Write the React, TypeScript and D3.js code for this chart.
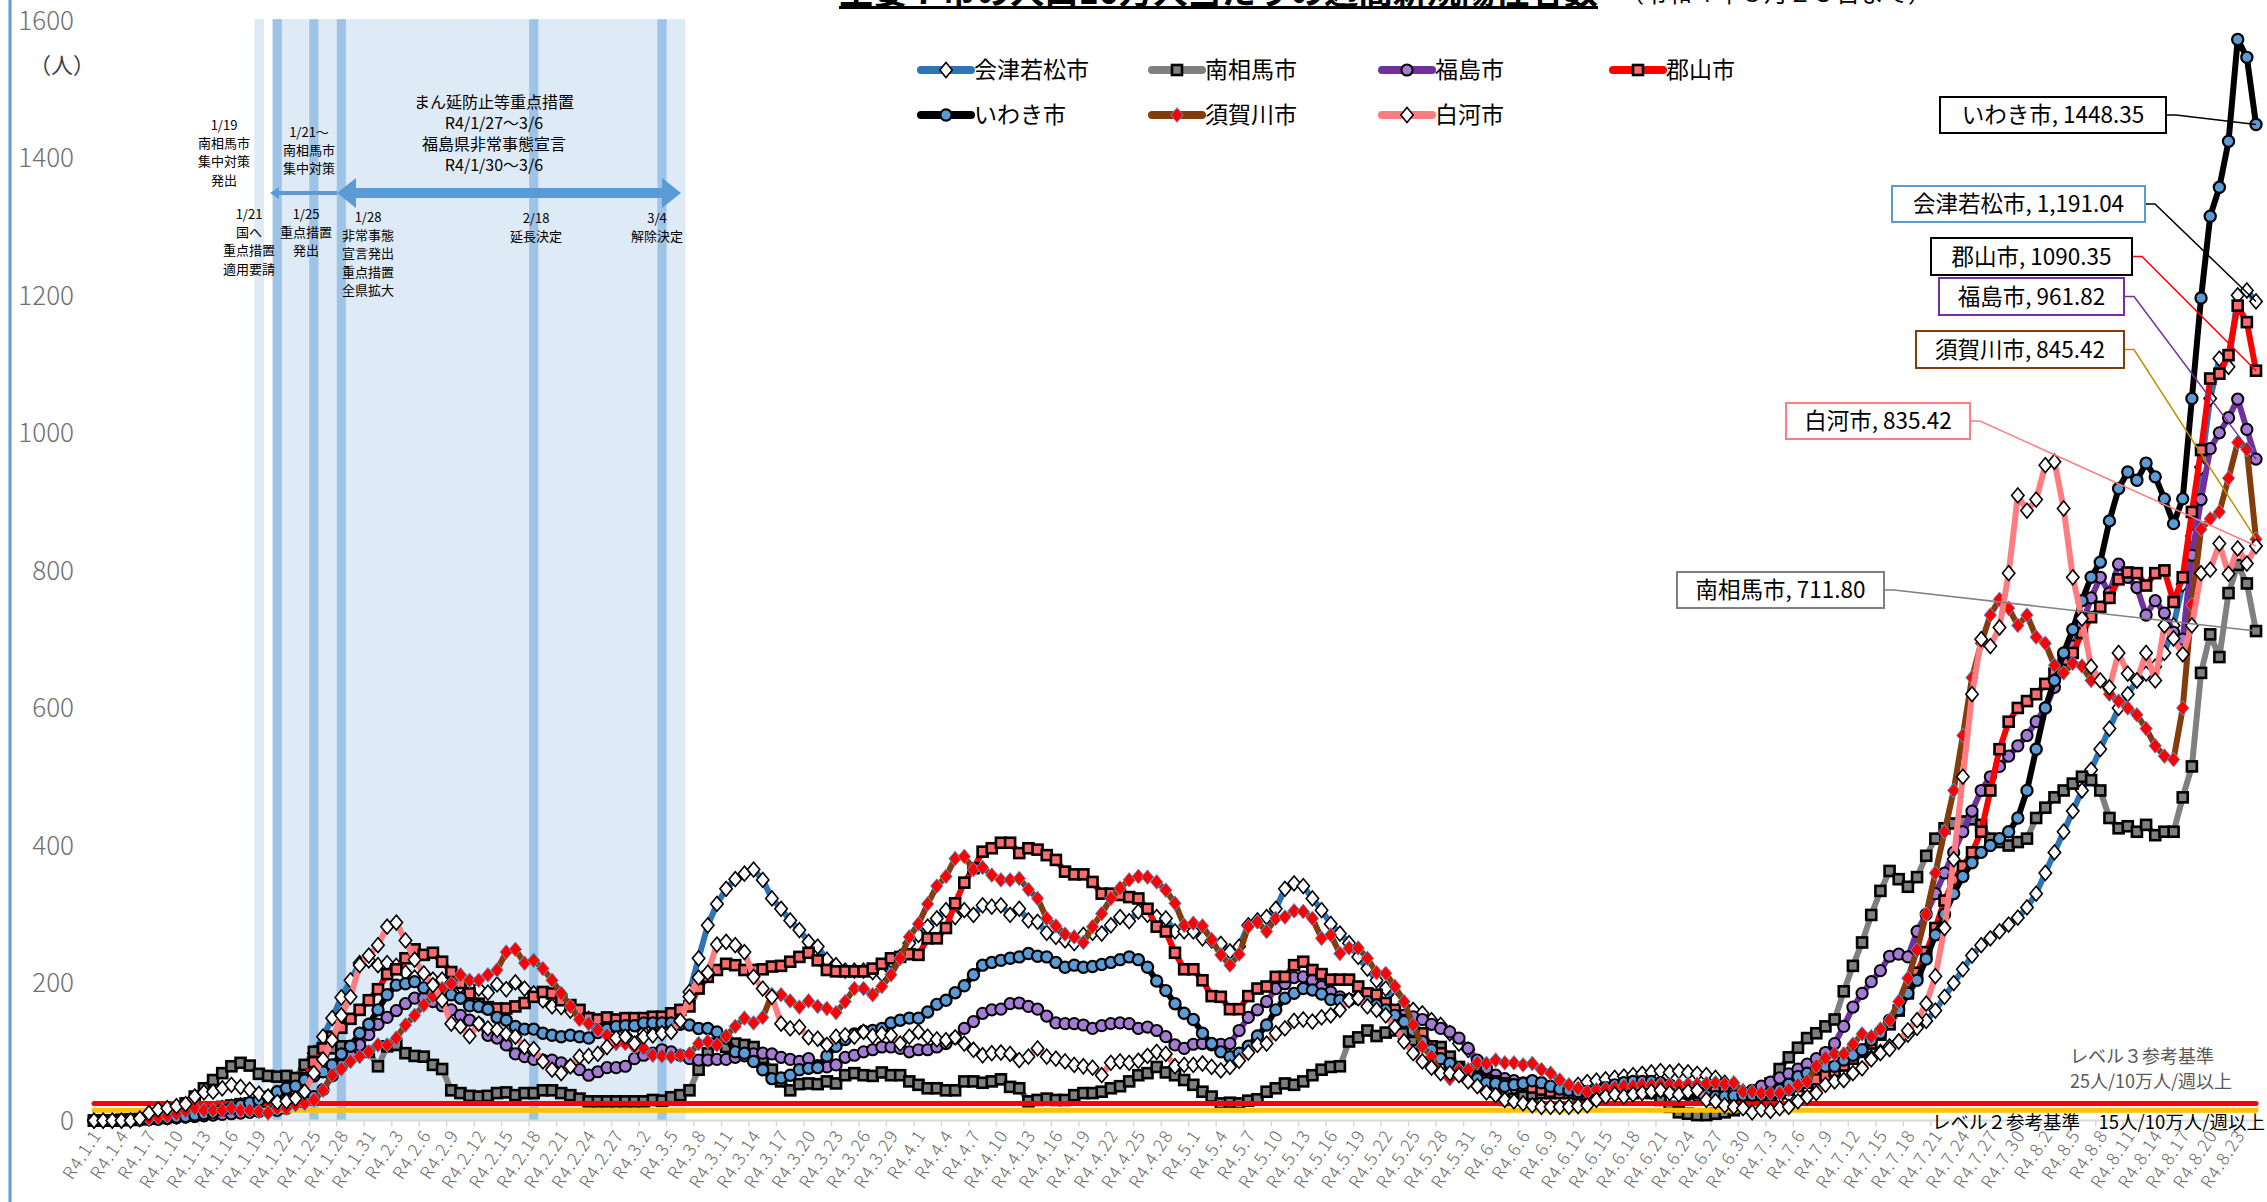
import React from "react";
import * as d3 from "d3";

const W = 2267;
const H = 1202;
const FONT = "'Noto Sans CJK JP', 'Noto Sans', sans-serif";

// categories: one per day, R4.1.1 .. R4.8.25
const startDay = new Date(2022, 0, 1);
const dayCount = 237;
const days = d3.range(dayCount).map((i) => d3.timeDay.offset(startDay, i));
const dayLabels = days.map((d) => `R4.${d.getMonth() + 1}.${d.getDate()}`);

const yTicks = [0, 200, 400, 600, 800, 1000, 1200, 1400, 1600];

// weekly new cases per 100k
const aizu = [
  0, 0, 0, 0, 1, 2, 3, 4, 5, 6, 8, 10, 12, 15, 18, 20, 22, 25, 28, 30, 33, 40, 55, 75, 98,
  122, 149, 179, 204, 229, 233, 226, 229, 225, 215, 208, 205, 205, 205, 200, 196, 194, 192, 186, 198, 191, 201, 192, 185, 175, 166, 165,
  160, 155, 148, 142, 138, 135, 132, 130, 128, 127, 130, 135,
  145, 187, 236, 284, 315, 337, 351, 359, 365, 350, 323, 308, 291, 277, 260, 253, 234, 226, 218, 218, 218, 216, 213, 233, 238, 258, 270, 282, 294, 306, 296, 306, 299, 313, 311, 313, 299, 308, 291,
  289, 273, 267, 262, 258, 270, 273, 272, 284, 296, 290, 304, 299, 296, 294, 275, 275, 275, 265, 262, 257, 246, 253, 284, 291, 296, 308, 337, 345, 341, 323, 306, 286, 272, 258, 238, 221, 204, 192, 175, 166, 161, 156, 146, 139, 127, 112, 103, 83, 69, 57, 49,
  48, 50, 52, 50, 48, 46, 48, 52, 56, 58, 60, 62, 64, 66, 68, 70, 72, 70, 72, 70, 68, 66, 62, 55, 48, 42, 40, 38, 36, 35, 38, 42, 48, 55, 60, 65, 70, 78, 85, 92, 100, 108, 115, 125, 135,
  145, 160, 180, 200, 220, 240, 255, 265, 275, 285, 295, 310, 330, 360, 390, 420, 450, 480, 510, 540, 570, 600, 620, 640, 650, 660, 680, 720, 780, 850, 950, 1050, 1108, 1096, 1200, 1207, 1191.04,
];
const minamisoma = [
  0, 0, 0, 1, 2, 3, 3, 6, 10, 16, 25, 35,
  47, 59, 69, 79, 84, 80, 68, 65, 64, 65, 62,
  81, 100, 102, 105, 108, 108, 105, 100, 79, 108, 110, 98, 94, 93, 81, 75,
  44, 40, 36, 35, 36, 40, 41, 37, 40, 40, 44, 44, 40,
  37, 32, 28, 28, 28, 28, 28, 28, 28, 30, 29, 34, 37, 44,
  74, 98, 112, 107, 112, 110, 107, 91, 74, 57, 44, 53, 54, 53, 57, 54, 66, 69, 66, 65, 70, 66, 66, 57, 52, 47, 47, 44, 44, 57, 57, 55, 57, 60, 49, 47, 28,
  30, 32, 30, 30, 37, 40, 40, 42, 47, 50, 57, 66, 69, 78, 70, 66, 59, 52, 42, 35, 25, 26, 25, 29, 31, 42, 47, 54, 52, 57, 66, 74, 78, 79, 115, 121, 131, 123, 128, 131, 127, 117, 110, 108, 107, 93, 78, 69, 64, 57, 42, 30,
  32, 35, 38, 40, 40, 42, 42, 40, 38, 40, 42, 44, 45, 45, 45, 40, 30, 20, 12, 10, 8, 8, 10, 12, 15, 20, 30, 35,
  54, 75, 92, 106, 120, 127, 137, 147, 188, 225, 259, 299, 334, 363, 351, 340, 354,
  385, 410, 425, 432, 435, 438, 430, 410, 405, 400, 405, 410, 440, 455, 470, 480, 490, 500, 495, 480, 440, 425, 428, 420, 430, 415, 420, 420, 470, 515, 651, 707, 674, 767, 808, 781, 711.8,
];
const fukushima = [
  0, 0, 0, 0, 1, 1, 2, 2, 3, 4, 5, 6, 7, 8, 9, 10, 11, 12, 13, 14, 15, 18, 22, 28,
  35, 45, 65, 80, 95, 110, 125, 140, 150, 160, 170, 178, 178,
  173, 167, 161, 153, 146, 141, 124, 120, 110, 97, 93, 89, 88, 88, 84,
  79, 74, 66, 71, 77, 77, 79, 90, 95, 98, 103, 100, 95, 90, 88, 88, 89, 89, 92, 94, 97, 98, 97, 92,
  89, 86, 90, 80, 78, 81, 92, 95, 100, 103, 107, 107, 105, 100, 103, 103, 107, 112, 120, 134, 144, 156, 161, 162, 170, 171, 166,
  162, 152, 142, 141, 141, 139, 134, 138, 141, 142, 141, 134, 136, 131, 122, 110, 105, 111, 112, 110, 111, 112, 131, 150, 161, 173, 192, 199, 208, 209, 204, 195, 187, 180, 175, 178, 173, 168, 161, 156, 153, 151, 147, 140, 134, 129, 120, 105, 88, 76, 66, 61,
  58, 55, 52, 50, 48, 46, 45, 44, 42, 40, 40, 40, 42, 44, 45, 45, 44, 42, 40, 38, 36, 35, 35, 36, 38, 40, 44, 50, 56, 62, 68, 75, 82, 90,
  99, 112, 137, 165, 185, 202, 218, 239, 242, 238, 275,
  300, 330, 360, 390, 420, 450, 480, 500, 515, 530, 545, 560, 580, 600, 630, 660, 690, 720, 760, 790, 767, 809, 790, 775, 735, 756, 738, 710, 700, 822, 903, 977, 1000, 1022, 1049, 1005, 961.82,
];
const koriyama = [
  0, 0, 0, 1, 1, 2, 3, 4, 6, 8, 10, 12, 15, 18, 20, 22, 24, 25, 25, 26, 28,
  30, 45, 62, 85, 105, 122, 135, 148, 161, 175, 191, 213, 220, 236, 249, 241, 244, 231, 216, 200, 185, 170, 165, 163, 163, 166, 171, 180, 187, 185, 175,
  168, 161, 149, 147, 150, 147, 149, 149, 149, 151, 151, 156, 161, 166, 192, 209, 219, 228, 226, 219, 219, 220, 224, 225, 231, 238, 244, 233, 219, 217, 217, 217, 217, 221, 228, 236, 238, 242, 241, 265, 265, 280, 316, 346, 367, 391, 396, 404, 404, 389, 396,
  394, 386, 379, 362, 358, 358, 347, 330, 330, 328, 325, 323, 308, 282, 275, 244, 220, 220, 204, 181, 180, 162, 162, 181, 192, 195, 209, 209, 226, 231, 219, 213, 205, 205, 205, 195, 185, 183, 171, 161, 146, 129, 127, 108, 98, 83, 74, 69, 64, 59, 57, 54,
  52, 50, 48, 45, 42, 40, 40, 38, 38, 40, 42, 42, 40, 40, 42, 44, 45, 44, 42, 40, 40, 40, 42, 42, 40, 38, 36, 35, 36, 40, 45, 50, 55, 60, 65, 72, 80, 90, 100, 112, 125, 140, 160, 185, 215,
  245, 280, 320, 350, 370, 390, 420, 480, 540, 580, 600, 610, 620, 635, 650, 670, 680, 709, 732, 747, 760, 787, 797, 796, 778, 796, 800, 754, 790, 885, 975, 1079, 1086, 1113, 1185, 1161, 1090.35,
];
const iwaki = [
  0, 0, 0, 0, 1, 1, 2, 3, 4, 5, 6, 8, 10, 12, 15, 18, 22, 26, 30, 35,
  42, 47, 50, 59, 65, 71, 81, 97, 108, 127, 140, 161, 183, 197, 199, 202, 193, 186, 185, 183, 178, 167, 166, 162, 150, 146, 137, 133, 133, 127, 124, 122,
  124, 122, 120, 128, 133, 137, 138, 138, 142, 142, 142, 142, 140, 139, 134, 134, 129, 120, 100, 98, 86, 74,
  61, 62, 66, 74, 76, 77, 94, 108, 118, 126, 130, 131, 134, 142, 146, 149, 149, 158, 169, 175, 186, 196, 212, 226, 230, 233, 236, 238, 243,
  239, 238, 230, 223, 226, 223, 224, 227, 230, 234, 238, 234, 223, 203, 189, 170, 156, 147, 127, 112, 100, 93, 98, 108, 123, 139, 161, 178, 185, 192, 190, 184, 176, 175, 176, 177, 173, 168, 161, 153, 144, 131, 115, 103, 90, 83, 76, 68, 61, 55, 54, 50,
  52, 54, 58, 55, 50, 46, 44, 42, 42, 44, 48, 52, 55, 57, 57, 57, 55, 52, 48, 45, 42, 37, 35, 35, 36, 37,
  37, 37, 40, 45, 53, 64, 69, 76, 79, 79, 88, 95, 103, 117, 127, 146, 161, 185, 204,
  235, 270, 300, 330, 355, 375, 390, 400, 410, 420, 440, 480, 540, 600, 640, 680,
  714, 756, 790, 812, 872, 919, 943, 931, 956, 936, 904, 868, 904, 1050, 1196, 1315, 1357, 1424, 1572, 1546, 1448.35,
];
const sukagawa = [
  0, 0, 0, 0, 1, 2, 3, 5, 7, 10, 14,
  18, 15, 15, 15, 18, 15, 15, 13, 11, 18, 18, 23, 25, 30, 44, 66, 75, 86, 93, 100, 110, 110, 120, 139, 153, 168, 181, 192, 199, 212, 204, 204, 212, 219, 245, 249, 229, 233, 221, 204, 185,
  166, 147, 141, 132, 124, 112, 112, 107, 105, 95, 94, 93, 95, 97, 112, 115, 110, 123, 137, 149, 142, 150, 183, 183, 174, 165, 174, 166, 163, 157, 173, 192, 192, 183, 195, 212, 236, 267, 286, 315, 341, 355, 381, 384, 365, 368, 357, 350, 350, 352, 336,
  323, 294, 283, 271, 267, 259, 282, 301, 323, 338, 350, 355, 354, 347, 335, 316, 284, 287, 283, 263, 241, 226, 242, 282, 289, 275, 294, 296, 305, 304, 294, 265, 270, 243, 251, 251, 236, 215, 214, 195, 173, 139, 108, 93, 69, 61, 74, 74, 84, 83, 88, 84,
  84, 81, 83, 74, 69, 59, 52, 47, 42, 45, 46, 48, 50, 50, 52, 52, 52, 52,
  52, 53, 53, 54, 55, 53, 55, 42, 42, 40, 40, 40, 45, 52, 57, 79, 91, 97, 97, 111, 126, 122, 133, 146, 173, 207, 248,
  300, 360, 420, 480, 560, 644, 694, 735, 758, 745, 720, 735, 703, 694, 662, 651, 665, 661, 640, 640, 620, 610, 600, 590, 570, 545, 530, 525, 600, 750, 860, 875, 885, 934, 986, 976, 845.42,
];
const shirakawa = [
  0, 0, 0, 0, 0, 3,
  11, 16, 18, 21, 24, 35, 41, 42, 47, 52, 49, 45, 39, 35, 27, 28, 32, 42, 69, 89, 117, 153, 180, 226, 240, 255, 282, 288, 262, 234, 214, 197, 175, 141, 137, 123, 141, 134, 132, 126, 122, 107, 104, 86, 74, 69,
  79, 93, 94, 97, 107, 120, 122, 112, 122, 124, 127, 129,
  145, 180, 208, 215, 256, 260, 255, 245, 209, 192, 180, 141, 134, 136, 121, 119, 110, 122, 124, 122, 129, 123, 126, 124, 112, 122, 129, 122, 118, 117, 121, 112, 103, 95, 98, 99, 97, 88, 93,
  105, 93, 90, 86, 81, 79, 77, 66, 84, 86, 84, 87, 94, 100, 97, 79, 81, 81, 83, 78, 73, 78, 87, 99, 110, 112, 127, 134, 145, 147, 144, 150, 153, 161, 175, 178, 166, 161, 153, 136, 115, 98, 86, 77, 69, 69, 66, 57, 50, 41, 37, 30,
  28, 25, 22, 20, 20, 20, 20, 21, 22, 30, 35, 38, 35, 38, 40, 42, 44, 40, 38, 42, 44, 30, 28, 22, 20, 18, 12, 16, 14, 18, 20, 28, 34, 40, 52, 57, 59, 69, 76, 89, 98, 104, 115, 131, 146,
  170, 210, 280, 380, 500, 620, 700, 690, 717, 796, 909, 887, 903, 953, 958, 890, 790, 730, 660, 640, 630, 680, 650, 640, 680, 640, 720, 701, 678, 720, 796, 801, 839, 795, 832, 810, 835.42,
];

const endLabels = [
  "会津若松市, 1,191.04",
  "南相馬市, 711.80",
  "福島市, 961.82",
  "郡山市, 1090.35",
  "いわき市, 1448.35",
  "須賀川市, 845.42",
  "白河市, 835.42",
];

const level3 = 25;
const level2 = 15;

// shaded periods and event days
const shadeRanges = [
  ["R4.1.19", "R4.1.19"],
  ["R4.1.21", "R4.3.6"],
];
const eventDays = ["R4.1.21", "R4.1.25", "R4.1.28", "R4.2.18", "R4.3.4"];

type Kind = "diamond" | "square" | "circle";
interface Style {
  color: string;
  kind: Kind;
  fill: string;
  mstroke: string;
  mw: number;
  box: [number, number, number, number];
  boxStroke: string;
  leader: string;
  legend: [number, number];
}

const series: { name: string; values: number[]; label: string; st: Style }[] = [
  { name: "会津若松市", values: aizu, label: endLabels[0], st: { color: "#2e75b6", kind: "diamond", fill: "#ffffff", mstroke: "#000", mw: 1.6, box: [1892, 186, 253, 36], boxStroke: "#5b9bd5", leader: "#000", legend: [0, 0] } },
  { name: "南相馬市", values: minamisoma, label: endLabels[1], st: { color: "#808080", kind: "square", fill: "#7f7f7f", mstroke: "#000", mw: 2.6, box: [1677, 572, 207, 36], boxStroke: "#808080", leader: "#808080", legend: [1, 0] } },
  { name: "福島市", values: fukushima, label: endLabels[2], st: { color: "#7030a0", kind: "circle", fill: "#a47bd2", mstroke: "#000", mw: 2, box: [1939, 278, 185, 37], boxStroke: "#7030a0", leader: "#7030a0", legend: [2, 0] } },
  { name: "郡山市", values: koriyama, label: endLabels[3], st: { color: "#ff0000", kind: "square", fill: "#ff6b6b", mstroke: "#000", mw: 2.6, box: [1931, 238, 201, 37], boxStroke: "#000", leader: "#ff0000", legend: [3, 0] } },
  { name: "いわき市", values: iwaki, label: endLabels[4], st: { color: "#000000", kind: "circle", fill: "#5b9bd5", mstroke: "#000", mw: 2.2, box: [1940, 97, 226, 36], boxStroke: "#000", leader: "#000", legend: [0, 1] } },
  { name: "須賀川市", values: sukagawa, label: endLabels[5], st: { color: "#843c0c", kind: "diamond", fill: "#ff0000", mstroke: "#5b9bd5", mw: 1, box: [1916, 331, 208, 37], boxStroke: "#843c0c", leader: "#bf9000", legend: [1, 1] } },
  { name: "白河市", values: shirakawa, label: endLabels[6], st: { color: "#ff7c80", kind: "diamond", fill: "#ffffff", mstroke: "#000", mw: 1.6, box: [1786, 403, 184, 36], boxStroke: "#ff7c80", leader: "#ff7c80", legend: [2, 1] } },
];

const legendCols = [921, 1152, 1382, 1613];
const legendRows = [70, 115];

function Marker({ kind, x, y, fill, stroke, sw }: { kind: Kind; x: number; y: number; fill: string; stroke: string; sw: number }) {
  if (kind === "circle") return <circle cx={x} cy={y} r={5.6} fill={fill} stroke={stroke} strokeWidth={sw} />;
  if (kind === "square") return <rect x={x - 5} y={y - 5} width={10} height={10} fill={fill} stroke={stroke} strokeWidth={sw} />;
  return <path d={`M${x},${y - 7.4}L${x + 6.2},${y}L${x},${y + 7.4}L${x - 6.2},${y}Z`} fill={fill} stroke={stroke} strokeWidth={sw} />;
}

const annoSmall: { x: number; lines: string[]; y0: number }[] = [
  { x: 224, y0: 125, lines: ["1/19", "南相馬市", "集中対策", "発出"] },
  { x: 309, y0: 132, lines: ["1/21～", "南相馬市", "集中対策"] },
  { x: 249, y0: 214, lines: ["1/21", "国へ", "重点措置", "適用要請"] },
  { x: 306, y0: 214, lines: ["1/25", "重点措置", "発出"] },
  { x: 368, y0: 217, lines: ["1/28", "非常事態", "宣言発出", "重点措置", "全県拡大"] },
  { x: 536, y0: 218, lines: ["2/18", "延長決定"] },
  { x: 657, y0: 218, lines: ["3/4", "解除決定"] },
];
const annoBig = ["まん延防止等重点措置", "R4/1/27～3/6", "福島県非常事態宣言", "R4/1/30～3/6"];

export default function App() {
  const x = d3.scaleBand<number>().domain(d3.range(dayCount)).range([89.4, 2260.6]).padding(0);
  const bw = x.bandwidth();
  const cx = (i: number) => (x(i) as number) + bw / 2;
  const y = d3.scaleLinear().domain([0, 1600]).range([1120.6, 20.2]);
  const line = d3.line<number>().x((_, i) => cx(i)).y((v) => y(v));

  const idx = (lab: string) => dayLabels.indexOf(lab);
  const shadeIdx: number[] = [];
  shadeRanges.forEach(([a, b]) => {
    for (let i = idx(a); i <= idx(b); i++) shadeIdx.push(i);
  });
  const eventIdx = eventDays.map(idx);

  const drawSeries = (s: (typeof series)[number]) => (
    <g key={s.name}>
      <path d={line(s.values) || ""} fill="none" stroke={s.st.color} strokeWidth={6} strokeLinejoin="round" strokeLinecap="round" />
      {s.values.map((v, i) => (
        <Marker key={i} kind={s.st.kind} x={cx(i)} y={y(v)} fill={s.st.fill} stroke={s.st.mstroke} sw={s.st.mw} />
      ))}
    </g>
  );

  const refLine = (v: number, color: string) => (
    <line x1={cx(0)} x2={cx(dayCount - 1)} y1={y(v)} y2={y(v)} stroke={color} strokeWidth={5} strokeLinecap="round" />
  );

  const last = dayCount - 1;

  return (
    <svg width={W} height={H} style={{ position: "absolute", left: 0, top: 0, background: "#fff" }} fontFamily={FONT}>
      <rect width={W} height={H} fill="#fff" />
      {/* shaded columns */}
      {shadeIdx.map((i) => (
        <rect key={"s" + i} x={x(i)} y={y(1600) - 1} width={bw + 0.6} height={y(0) - y(1600) + 1} fill="#deebf7" />
      ))}
      {eventIdx.map((i) => (
        <rect key={"e" + i} x={x(i)} y={y(1600) - 1} width={bw} height={y(0) - y(1600) + 1} fill="#9dc3e6" />
      ))}

      {/* left border */}
      <line x1={10} x2={10} y1={0} y2={H} stroke="#5b9bd5" strokeWidth={3} />

      {/* y axis labels */}
      {yTicks.map((t) => (
        <text key={t} x={74} y={y(t)} dy="0.36em" textAnchor="end" fontSize={26} fill="#707070" fontWeight={300}>
          {t}
        </text>
      ))}
      <text x={62} y={65} dy="0.36em" textAnchor="middle" fontSize={22} fill="#404040">（人）</text>

      {/* x axis */}
      <line x1={x(0)} x2={(x(last) as number) + bw} y1={y(0)} y2={y(0)} stroke="#d9d9d9" strokeWidth={2} />
      {dayLabels.map((lab, i) =>
        i % 3 === 0 ? (
          <g key={lab}>
            <line x1={x(i)} x2={x(i)} y1={y(0)} y2={y(0) + 6} stroke="#d9d9d9" strokeWidth={1.5} />
            <text
              transform={`translate(${cx(i) + 3},${y(0) + 11}) rotate(-57)`}
              textAnchor="end"
              dy="0.35em"
              fontSize={17.5}
              letterSpacing={1.2}
              fill="#6a6a6a"
              fontWeight={300}
            >
              {lab}
            </text>
          </g>
        ) : null
      )}

      {/* annotations */}
      <path d="M270,193 L279,187 L279,191 L337,191 L337,195 L279,195 L279,199 Z" fill="#5b9bd5" />
      <path d="M337,193 L356,178 L356,188 L662,188 L662,178 L681,193 L662,208 L662,198 L356,198 L356,208 Z" fill="#5b9bd5" />
      {annoSmall.map((a, k) => (
        <text key={"a" + k} x={a.x} textAnchor="middle" fontSize={13} fill="#000">
          {a.lines.map((l, j) => (
            <tspan key={j} x={a.x} y={a.y0 + j * 18.3} dy="0.36em">
              {l}
            </tspan>
          ))}
        </text>
      ))}
      <text textAnchor="middle" fontSize={16} fill="#000">
        {annoBig.map((l, j) => (
          <tspan key={j} x={494} y={102 + j * 21} dy="0.36em">
            {l}
          </tspan>
        ))}
      </text>

      {/* series, first group */}
      {series.slice(0, 4).map(drawSeries)}
      {refLine(level2, "#ffc000")}
      {refLine(level3, "#ff0000")}
      {series.slice(4).map(drawSeries)}

      {/* end-value callouts */}
      {series.map((s) => {
        const [bx, by, bW, bH] = s.st.box;
        const px = cx(last);
        const py = y(s.values[last]);
        return (
          <g key={"c" + s.name}>
            <polyline
              points={`${bx + bW},${by + bH / 2} ${bx + bW + 10},${by + bH / 2} ${px},${py}`}
              fill="none"
              stroke={s.st.leader}
              strokeWidth={1.5}
            />
            <rect x={bx} y={by} width={bW} height={bH} fill="#fff" stroke={s.st.boxStroke} strokeWidth={2} />
            <text x={bx + bW / 2} y={by + bH / 2} dy="0.36em" textAnchor="middle" fontSize={22.5} fill="#000">
              {s.label}
            </text>
          </g>
        );
      })}

      {/* level captions */}
      <text x={2070} y={1057} dy="0.36em" fontSize={18} fill="#595959">レベル３参考基準</text>
      <text x={2070} y={1082} dy="0.36em" fontSize={18} fill="#595959">25人/10万人/週以上</text>
      <text x={1932} y={1122} dy="0.36em" fontSize={18.5} fill="#000">レベル２参考基準　15人/10万人/週以上</text>

      {/* legend */}
      {series.map((s) => {
        const lx = legendCols[s.st.legend[0]];
        const ly = legendRows[s.st.legend[1]];
        return (
          <g key={"l" + s.name}>
            <line x1={lx} x2={lx + 50} y1={ly} y2={ly} stroke={s.st.color} strokeWidth={8} strokeLinecap="round" />
            <Marker kind={s.st.kind} x={lx + 25} y={ly} fill={s.st.fill} stroke={s.st.mstroke} sw={s.st.mw} />
            <text x={lx + 53} y={ly} dy="0.36em" fontSize={23} fill="#000">
              {s.name}
            </text>
          </g>
        );
      })}

      {/* title, cut off by the top edge as in the source */}
      <text x={839} y={4} fontSize={34} fontWeight="bold" fill="#000" textLength={759} lengthAdjust="spacingAndGlyphs">
        主要７市の人口10万人当たりの週間新規陽性者数
      </text>
      <line x1={839} x2={1598} y1={7.5} y2={7.5} stroke="#000" strokeWidth={3} />
      <text x={1620} y={2} fontSize={24} fill="#000">（令和４年８月２５日まで）</text>
    </svg>
  );
}
